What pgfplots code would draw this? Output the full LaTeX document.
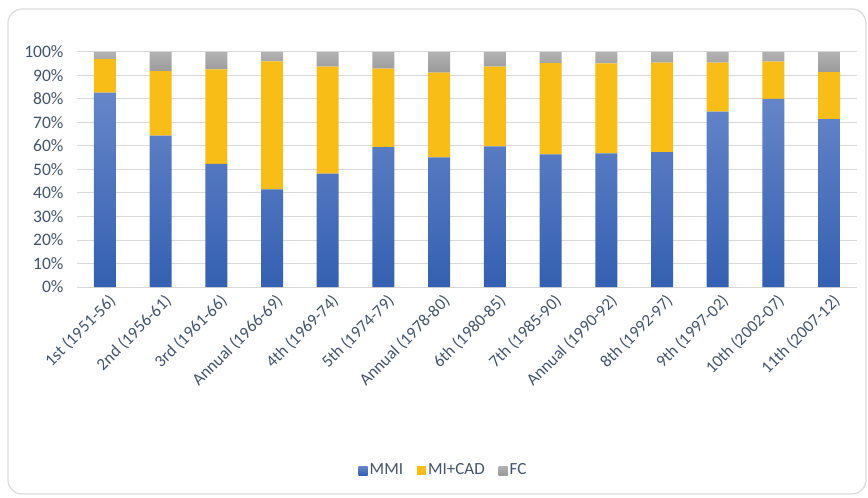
\documentclass[border=0pt]{standalone}
\usepackage{pgfplots}
\pgfplotsset{compat=1.18}
\usepackage{fontspec}
\setmainfont{Carlito}
\definecolor{txt}{HTML}{44546A}
\definecolor{mmitop}{HTML}{6686C9}
\definecolor{mmibot}{HTML}{3460B1}
\definecolor{mica}{HTML}{F9BD18}
\definecolor{fctop}{HTML}{B2B2B2}
\definecolor{fcbot}{HTML}{999999}
\definecolor{gridc}{HTML}{D9D9D9}
\pgfplotstableread{
x mmi mica fc
0 82.7 14.3 3.0
1 64.4 27.5 8.1
2 52.4 40.2 7.4
3 41.5 54.5 4.0
4 48.2 45.6 6.2
5 59.5 33.4 7.1
6 55.2 36.0 8.8
7 59.8 34.0 6.2
8 56.4 38.9 4.7
9 56.9 38.3 4.8
10 57.4 38.1 4.5
11 74.6 20.9 4.5
12 80.0 15.9 4.1
13 71.4 20.0 8.6
}\datatable
\begin{document}
\begin{tikzpicture}
\path (0pt,0pt) rectangle (868pt,498pt);
\draw[rounded corners=14pt, draw=black!14, line width=1.2pt] (8pt,4pt) rectangle (866pt,489pt);
\begin{axis}[
  at={(77pt,211pt)}, anchor=south west,
  scale only axis, width=780pt, height=235pt,
  ybar stacked, bar width=22pt,
  xmin=-0.5, xmax=13.5, ymin=0, ymax=100,
  axis line style={draw=none},
  ytick={0,10,...,100},
  yticklabel={\pgfmathprintnumber{\tick}\%},
  /pgf/number format/assume math mode=true,
  ymajorgrids, grid style={gridc, line width=1pt},
  major tick length=0pt,
  xtick={0,...,13},
  xticklabels={1st (1951-56),2nd (1956-61),3rd (1961-66),Annual (1966-69),4th (1969-74),5th (1974-79),Annual (1978-80),6th (1980-85),7th (1985-90),Annual (1990-92),8th (1992-97),9th (1997-02),10th (2002-07),11th (2007-12)},
  xticklabel style={rotate=45, anchor=north east, font=\fontsize{17}{20}\selectfont, text=txt, xshift=1pt, yshift=-3pt},
  yticklabel style={font=\fontsize{17.5}{20}\selectfont, text=txt, xshift=-10pt},
  legend style={at={(0.47,-0.779)}, anchor=center, draw=none, legend columns=3,
    font=\fontsize{17}{20}\selectfont, text=txt,
    /tikz/every even column/.append style={column sep=12pt}},
  legend image code/.code={\path[#1, draw=none] (0pt,-5pt) rectangle (9pt,4pt);},
  clip=false,
]
\addplot[draw=none, top color=mmitop, bottom color=mmibot] table[x=x, y=mmi] {\datatable};
\addplot[draw=none, fill=mica] table[x=x, y=mica] {\datatable};
\addplot[draw=none, top color=fctop, bottom color=fcbot] table[x=x, y=fc] {\datatable};
\legend{MMI, MI+CAD, FC}
\end{axis}
\end{tikzpicture}
\end{document}
